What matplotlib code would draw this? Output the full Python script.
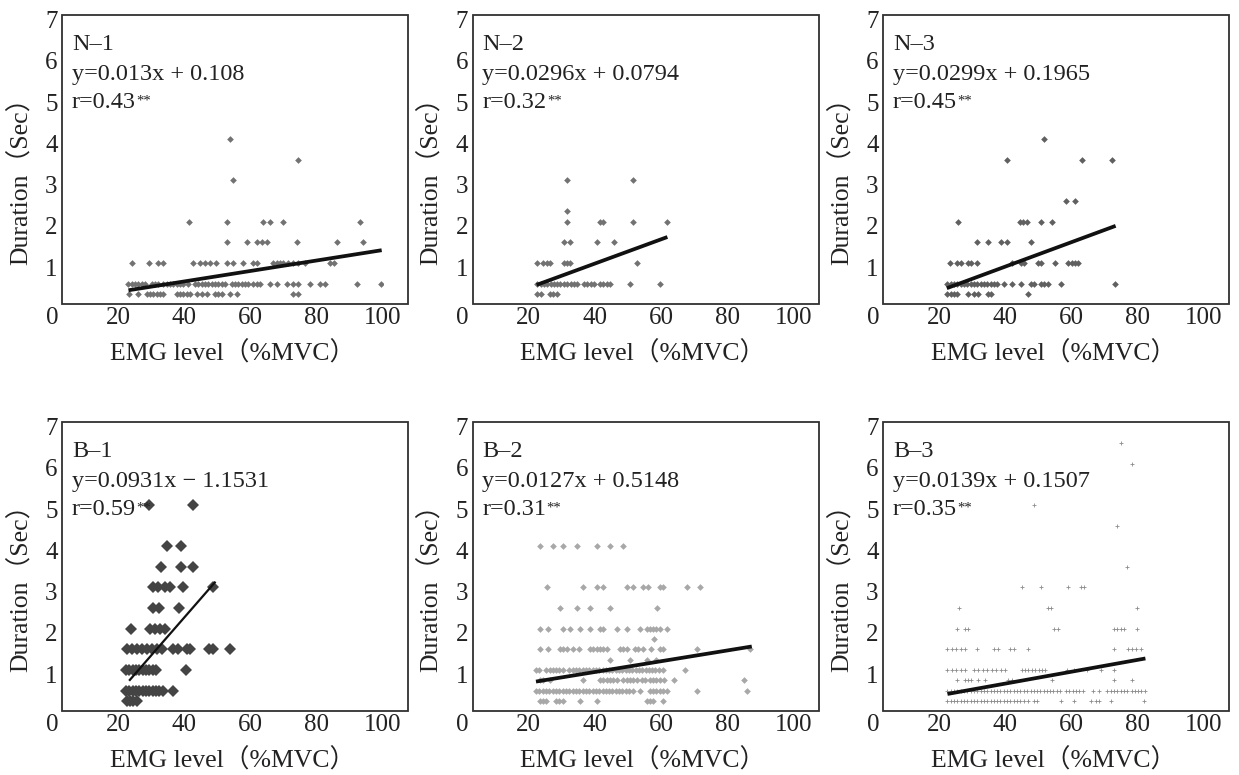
import matplotlib
matplotlib.use('Agg')
import matplotlib.pyplot as plt
from matplotlib.patches import Rectangle
from matplotlib.transforms import ScaledTranslation

plt.rcParams['font.family'] = ['Liberation Serif', 'Noto Sans CJK JP']

# ---------------- data (EMG level %MVC grouped by duration level, Sec) ----------------
n1_rows = {
    4.0: [53.8],
    3.5: [74.3],
    3.0: [54.7],
    2.0: [41.5, 52.8, 63.6, 65.9, 69.9, 93.1],
    1.5: [52.8, 58.8, 61.8, 63.4, 64.9, 73.9, 86.0, 94.0],
    1.0: [24.3, 29.3, 32.1, 33.4, 42.7, 44.7, 46.2, 47.7, 49.5, 52.8, 54.6, 57.8,
          60.8, 61.8, 66.9, 67.9, 68.9, 69.9, 71.4, 72.9, 74.4, 76.4, 84.0, 85.2],
    0.5: [23.1, 24.1, 25.1, 26.1, 27.1, 28.1, 30.1, 31.1, 32.1, 33.6, 34.6, 35.6,
          36.7, 37.7, 38.7, 39.7, 41.2, 43.2, 44.2, 45.2, 46.2, 47.2, 48.2, 49.2,
          50.2, 51.3, 52.3, 54.3, 55.3, 56.3, 57.3, 58.3, 59.3, 60.8, 61.8, 62.8,
          65.9, 67.9, 70.9, 72.9, 74.4, 77.9, 81.0, 82.5, 92.0, 99.3],
    0.25: [23.3, 26.1, 28.6, 29.6, 30.6, 31.6, 32.6, 33.6, 37.7, 38.7, 39.7, 40.7,
           41.7, 43.7, 45.2, 46.7, 49.2, 50.2, 51.3, 53.8, 55.8, 72.9, 74.4],
}
n1_fit_x = [23.1, 99.6]
n1_fit_y = [0.34, 1.31]

n2_rows = {
    3.0: [31.6, 51.6],
    2.25: [31.6],
    2.0: [31.6, 41.5, 42.5, 51.6, 61.7],
    1.5: [30.6, 32.6, 40.6, 45.9],
    1.0: [22.5, 24.4, 25.4, 26.4, 30.6, 31.6, 32.6, 52.6],
    0.5: [22.6, 23.6, 24.6, 25.6, 26.6, 27.6, 28.6, 29.6, 30.7, 31.7, 32.7, 33.7,
          34.7, 36.7, 37.7, 38.7, 39.7, 41.5, 42.5, 43.6, 44.6, 50.6, 59.7],
    0.25: [22.6, 23.6, 26.4, 27.4, 28.6],
}
n2_fit_x = [22.4, 61.9]
n2_fit_y = [0.47, 1.63]

n3_rows = {
    4.0: [51.8],
    3.5: [40.5, 63.0, 72.2],
    2.5: [58.2, 60.9],
    2.0: [25.6, 44.4, 45.4, 46.4, 50.9, 54.0],
    1.5: [31.5, 34.6, 38.6, 40.5, 47.7],
    1.0: [23.4, 25.5, 26.5, 28.6, 29.6, 31.5, 41.9, 44.6, 45.6, 49.7, 50.7, 55.0,
          59.0, 60.0, 61.0, 62.0],
    0.5: [22.5, 23.5, 24.5, 25.5, 26.5, 27.5, 28.5, 29.5, 30.5, 31.5, 32.5, 33.5,
          34.5, 35.5, 36.5, 37.6, 39.7, 41.9, 44.6, 47.6, 48.6, 50.8, 51.8, 52.8,
          56.8, 73.1],
    0.25: [22.5, 23.5, 24.5, 25.5, 28.6, 30.6, 31.6, 34.6, 35.6, 46.8],
}
n3_fit_x = [22.3, 73.3]
n3_fit_y = [0.39, 1.90]

b1_rows = {
    5.0: [29.4, 42.5],
    4.0: [34.8, 38.9],
    3.5: [32.8, 38.9, 42.5],
    3.0: [30.4, 32.1, 34.1, 35.6, 39.5, 48.7],
    2.5: [30.4, 32.4, 38.5],
    2.0: [23.9, 29.6, 31.1, 32.6, 34.1],
    1.5: [22.6, 24.1, 25.6, 27.1, 28.6, 30.1, 31.6, 33.1, 36.7, 38.2, 40.7, 41.7,
          47.5, 48.7, 53.8],
    1.0: [22.4, 23.4, 24.4, 25.4, 26.4, 27.4, 28.4, 29.4, 30.4, 31.4, 40.5],
    0.5: [22.4, 23.4, 24.4, 25.4, 26.4, 27.4, 28.4, 29.4, 30.4, 31.4, 32.4, 33.5,
          36.5],
    0.25: [22.6, 23.6, 24.6, 25.6],
}
b1_fit_x = [23.3, 49.4]
b1_fit_y = [0.74, 3.14]

b2_rows = {
    4.0: [23.4, 27.4, 30.5, 34.5, 40.5, 44.6, 48.6],
    3.0: [25.4, 36.5, 40.5, 42.5, 49.6, 51.6, 54.6, 56.1, 59.7, 60.7, 67.7, 71.7],
    2.5: [29.5, 34.5, 38.5, 44.6, 58.9],
    2.0: [23.4, 25.9, 30.5, 32.5, 35.5, 38.5, 41.5, 42.5, 46.6, 49.6, 53.6, 55.6,
          56.6, 57.6, 58.6, 59.7, 61.7],
    1.75: [57.8],
    1.5: [23.4, 25.9, 29.5, 30.5, 31.5, 33.5, 35.3, 38.5, 39.5, 40.5, 41.5, 42.5,
          43.6, 47.6, 48.6, 49.6, 52.1, 53.1, 54.6, 56.8, 59.7, 60.7, 70.7, 86.8],
    1.25: [44.6, 50.6, 55.6, 58.6],
    1.0: [22.2, 23.2, 25.2, 26.3, 27.3, 28.3, 29.3, 30.3, 32.3, 33.3, 34.3, 35.3,
          36.3, 37.3, 38.3, 39.3, 40.3, 41.3, 42.3, 43.3, 44.3, 45.3, 46.3, 47.3,
          48.3, 49.3, 50.3, 51.3, 52.3, 53.3, 54.3, 55.3, 56.3, 57.3, 58.3, 59.3,
          60.5, 67.2],
    0.75: [23.4, 24.4, 26.4, 36.3, 41.5, 42.5, 43.6, 44.6, 45.6, 46.6, 48.6, 49.6,
           50.6, 51.6, 52.6, 54.1, 55.1, 56.6, 57.6, 58.6, 59.7, 60.9, 63.9, 85.0],
    0.5: [22.2, 23.2, 24.2, 25.2, 26.2, 27.2, 28.2, 29.3, 30.3, 31.3, 32.3, 33.3,
          34.3, 35.3, 36.3, 37.3, 38.3, 39.3, 40.3, 41.3, 42.3, 43.3, 44.3, 45.3,
          46.3, 47.3, 48.3, 49.3, 50.3, 51.4, 53.6, 56.6, 57.6, 58.6, 59.7, 60.7,
          61.7, 70.7, 86.0],
    0.25: [23.4, 24.4, 25.2, 28.2, 29.3, 30.3, 35.5, 40.5, 55.6, 56.6, 57.6, 60.7],
}
b2_fit_x = [22.2, 87.4]
b2_fit_y = [0.72, 1.57]

b3_rows = {
    6.5: [74.8],
    6.0: [78.2],
    5.0: [48.6],
    4.5: [73.8],
    3.5: [76.8],
    3.0: [44.9, 50.7, 58.8, 62.7, 63.7],
    2.5: [26.1, 52.9, 53.9, 79.9],
    2.0: [25.5, 27.8, 28.6, 54.8, 55.8, 72.8, 73.8, 74.8, 75.8, 79.9],
    1.5: [22.5, 23.8, 25.1, 26.5, 27.8, 31.5, 36.6, 37.9, 41.4, 42.6, 46.7, 72.9,
          76.9, 78.1, 79.6, 80.9],
    1.0: [22.5, 23.8, 25.1, 26.5, 27.8, 30.5, 31.8, 33.1, 34.5, 35.9, 37.2, 38.6,
          39.9, 44.9, 46.0, 46.9, 47.9, 48.9, 50.0, 51.0, 52.0, 58.7, 60.7, 64.8,
          68.8, 72.8],
    0.75: [25.5, 27.8, 28.6, 29.6, 31.8, 33.8, 40.9, 41.9, 54.0, 72.8, 78.1],
    0.5: [22.5, 23.5, 24.5, 25.5, 26.5, 27.5, 28.5, 29.5, 30.5, 31.5, 32.5, 33.5,
          34.5, 35.5, 36.5, 37.5, 38.5, 39.5, 40.5, 41.5, 42.5, 43.5, 44.5, 45.6,
          46.6, 47.6, 48.6, 49.6, 50.6, 51.6, 52.5, 53.5, 54.5, 55.5, 56.5, 58.3,
          59.3, 60.3, 61.3, 62.3, 63.3, 66.4, 68.4, 70.8, 71.8, 72.8, 73.8, 74.8,
          75.8, 76.8, 78.1, 79.1, 80.1, 81.1, 82.1],
    0.25: [22.5, 23.5, 24.5, 25.5, 26.5, 27.5, 28.5, 29.5, 30.5, 31.5, 32.5, 33.5,
           34.5, 35.5, 36.5, 37.5, 38.5, 39.5, 40.5, 41.5, 42.5, 43.5, 44.5, 45.6,
           46.9, 48.6, 49.6, 56.7, 60.7, 65.8, 67.4, 68.4, 71.8, 81.9],
}
b3_fit_x = [22.5, 82.3]
b3_fit_y = [0.42, 1.28]

panel_names = ['N–1', 'N–2', 'N–3', 'B–1', 'B–2', 'B–3']
equations = ['y=0.013x + 0.108', 'y=0.0296x + 0.0794', 'y=0.0299x + 0.1965',
             'y=0.0931x − 1.1531', 'y=0.0127x + 0.5148', 'y=0.0139x + 0.1507']
r_values = ['r=0.43', 'r=0.32', 'r=0.45', 'r=0.59', 'r=0.31', 'r=0.35']
x_ticks = [0, 20, 40, 60, 80, 100]
y_ticks = [1, 2, 3, 4, 5, 6, 7]
x_label = 'EMG level（%MVC）'
y_label = 'Duration（Sec）'

all_rows = [n1_rows, n2_rows, n3_rows, b1_rows, b2_rows, b3_rows]
all_fit_x = [n1_fit_x, n2_fit_x, n3_fit_x, b1_fit_x, b2_fit_x, b3_fit_x]
all_fit_y = [n1_fit_y, n2_fit_y, n3_fit_y, b1_fit_y, b2_fit_y, b3_fit_y]

# ---------------- styles ----------------
marker_styles = [
    dict(marker='D', ms=3.4, color='#727272', mew=0),
    dict(marker='D', ms=3.4, color='#727272', mew=0),
    dict(marker='D', ms=3.4, color='#606060', mew=0),
    dict(marker='D', ms=6.0, color='#444444', mew=0),
    dict(marker='D', ms=3.4, color='#a8a8a8', mew=0),
    dict(marker='+', ms=3.2, color='#8c8c8c', mew=0.6),
]
line_widths = [2.7, 2.7, 2.7, 1.6, 2.7, 2.7]
TEXT = '#222222'

W, H = 1239, 775
fig = plt.figure(figsize=(W / 100, H / 100), dpi=100)

for i in range(6):
    r, c = divmod(i, 3)
    left = 52 + 410.5 * c
    bottom_px = 304.3 + 407 * r
    ax = fig.add_axes([left / W, (H - bottom_px) / H, 331 / W, 289 / H])
    ax.set_xlim(0, 100)
    ax.set_ylim(0, 7)
    for s in ax.spines.values():
        s.set_visible(False)
    ax.add_patch(Rectangle((10 / 331, 0), 346 / 331, 1, transform=ax.transAxes,
                           fill=False, lw=1.3, ec='#303030', clip_on=False, zorder=5))
    rows = all_rows[i]
    xs, ys = [], []
    for yv, xl in rows.items():
        xs += xl
        ys += [yv] * len(xl)
    ax.plot(xs, ys, linestyle='none', zorder=2, **marker_styles[i])
    ax.plot(all_fit_x[i], all_fit_y[i], color='#111111', lw=line_widths[i],
            solid_capstyle='butt', zorder=3)

    ax.set_xticks(x_ticks)
    ax.set_yticks(y_ticks)
    ax.tick_params(length=0, labelsize=18, colors=TEXT)
    ax.tick_params(axis='x', pad=2)
    ax.tick_params(axis='y', pad=-4)
    off = ScaledTranslation(0, -3 / 72, fig.dpi_scale_trans)
    for lab in ax.get_yticklabels():
        lab.set_transform(lab.get_transform() + off)

    ax.text(-0.095, 0.447, y_label, rotation=90, ha='center', va='center',
            fontsize=18.5, color=TEXT, transform=ax.transAxes)
    ax.text(0.545, -0.168, x_label, ha='center', va='center',
            fontsize=18.5, color=TEXT, transform=ax.transAxes)

    tx = 0.06
    ax.text(tx, 0.880, panel_names[i], fontsize=17.5, color=TEXT, va='baseline',
            transform=ax.transAxes, zorder=6)
    ax.text(tx, 0.776, equations[i], fontsize=17.5, color=TEXT, va='baseline',
            transform=ax.transAxes, zorder=6)
    rt = ax.text(tx, 0.678, r_values[i], fontsize=17.5, color=TEXT, va='baseline',
                 transform=ax.transAxes, zorder=6)
    ax.annotate('**', xy=(1, 1), xycoords=rt, xytext=(0.3, -1.5),
                textcoords='offset points', fontsize=10.5, color=TEXT,
                ha='left', va='top', zorder=6)

fig.savefig('out.png', dpi=100)
